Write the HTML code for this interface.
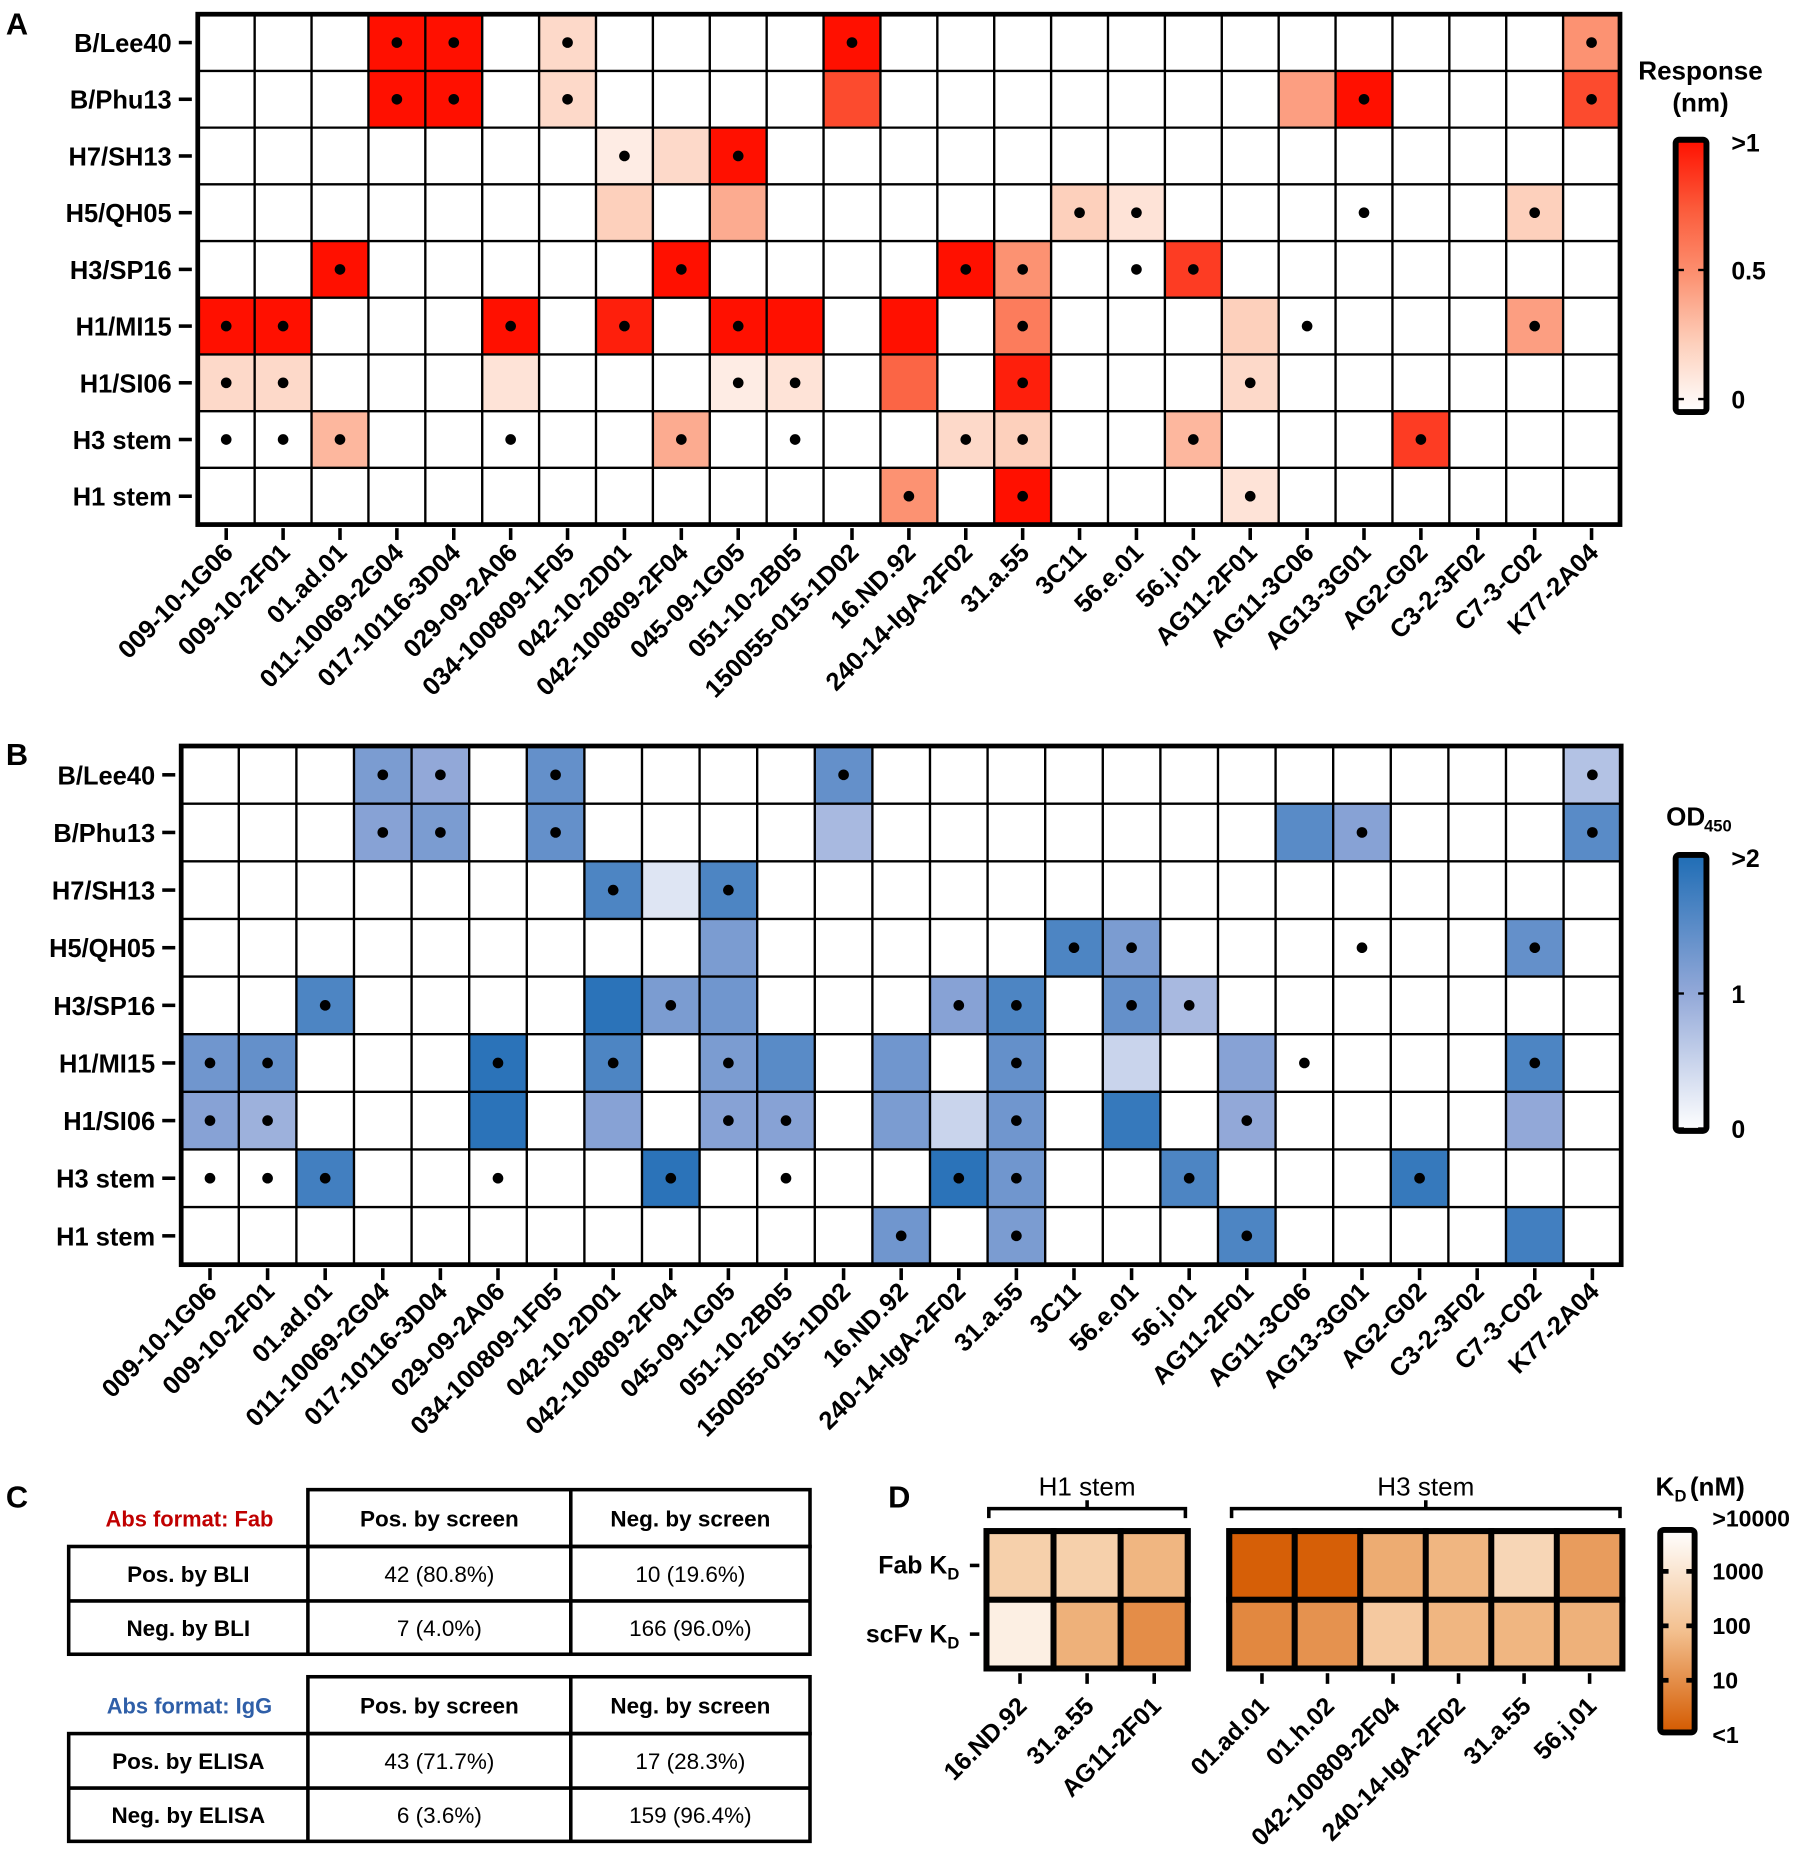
<!DOCTYPE html>
<html><head><meta charset="utf-8">
<style>
html,body{margin:0;padding:0;background:#fff;}
svg{display:block;font-family:"Liberation Sans",Arial,sans-serif;}
</style></head>
<body>
<svg id="fig" width="1800" height="1861" viewBox="0 0 1520 1571.6" preserveAspectRatio="none" xmlns="http://www.w3.org/2000/svg">
<defs>
<linearGradient id="gRed" x1="0" y1="1" x2="0" y2="0">
<stop offset="0" stop-color="#ffffff"/><stop offset="0.25" stop-color="#fdd0bc"/><stop offset="0.5" stop-color="#fc9272"/><stop offset="0.75" stop-color="#fb5a3a"/><stop offset="1" stop-color="#ff1000"/>
</linearGradient>
<linearGradient id="gBlue" x1="0" y1="1" x2="0" y2="0">
<stop offset="0" stop-color="#ffffff"/><stop offset="0.5" stop-color="#92a8d8"/><stop offset="1" stop-color="#1f6db5"/>
</linearGradient>
<linearGradient id="gOr" x1="0" y1="1" x2="0" y2="0">
<stop offset="0" stop-color="#d45a00"/><stop offset="0.5" stop-color="#f3c08f"/><stop offset="1" stop-color="#ffffff"/>
</linearGradient>
</defs>
</svg>
<script>
const cols = ["009-10-1G06","009-10-2F01","01.ad.01","011-10069-2G04","017-10116-3D04","029-09-2A06","034-100809-1F05","042-10-2D01","042-100809-2F04","045-09-1G05","051-10-2B05","150055-015-1D02","16.ND.92","240-14-IgA-2F02","31.a.55","3C11","56.e.01","56.j.01","AG11-2F01","AG11-3C06","AG13-3G01","AG2-G02","C3-2-3F02","C7-3-C02","K77-2A04"];
const rows = ["B/Lee40","B/Phu13","H7/SH13","H5/QH05","H3/SP16","H1/MI15","H1/SI06","H3 stem","H1 stem"];
// Panel A: [row, col, value(nm, 0..1), dot]
const bliCells = [
[0,3,1,1],[0,4,1,1],[0,6,0.2,1],[0,11,1,1],[0,24,0.5,1],
[1,3,1,1],[1,4,1,1],[1,6,0.2,1],[1,11,0.8,0],[1,19,0.45,0],[1,20,1,1],[1,24,0.8,1],
[2,7,0.1,1],[2,8,0.2,0],[2,9,1,1],
[3,7,0.25,0],[3,9,0.4,0],[3,15,0.25,1],[3,16,0.15,1],[3,20,0,1],[3,23,0.25,1],
[4,2,1,1],[4,8,1,1],[4,13,1,1],[4,14,0.5,1],[4,16,0,1],[4,17,0.85,1],
[5,0,1,1],[5,1,1,1],[5,5,1,1],[5,7,0.95,1],[5,9,1,1],[5,10,1,0],[5,12,1,0],[5,14,0.6,1],[5,18,0.25,0],[5,19,0,1],[5,23,0.45,1],
[6,0,0.2,1],[6,1,0.2,1],[6,5,0.15,0],[6,9,0.1,1],[6,10,0.15,1],[6,12,0.7,0],[6,14,0.95,1],[6,18,0.2,1],
[7,0,0,1],[7,1,0,1],[7,2,0.35,1],[7,5,0,1],[7,8,0.4,1],[7,10,0,1],[7,13,0.2,1],[7,14,0.25,1],[7,17,0.35,1],[7,21,0.85,1],
[8,12,0.5,1],[8,14,1,1],[8,18,0.15,1]];
// Panel B: [row, col, OD450 (0..2), dot]
const elisaCells = [
[0,3,1.2,1],[0,4,1.0,1],[0,6,1.4,1],[0,11,1.4,1],[0,24,0.7,1],
[1,3,1.1,1],[1,4,1.2,1],[1,6,1.4,1],[1,11,0.8,0],[1,19,1.5,0],[1,20,1.1,1],[1,24,1.5,1],
[2,7,1.6,1],[2,8,0.3,0],[2,9,1.6,1],
[3,9,1.2,0],[3,15,1.6,1],[3,16,1.2,1],[3,20,0,1],[3,23,1.4,1],
[4,2,1.6,1],[4,7,1.9,0],[4,8,1.2,1],[4,9,1.3,0],[4,13,1.1,1],[4,14,1.6,1],[4,16,1.4,1],[4,17,0.8,1],
[5,0,1.3,1],[5,1,1.4,1],[5,5,1.9,1],[5,7,1.6,1],[5,9,1.2,1],[5,10,1.5,0],[5,12,1.3,0],[5,14,1.4,1],[5,16,0.5,0],[5,18,1.1,0],[5,19,0,1],[5,23,1.6,1],
[6,0,1.1,1],[6,1,0.9,1],[6,5,1.9,0],[6,7,1.1,0],[6,9,1.1,1],[6,10,1.1,1],[6,12,1.2,0],[6,13,0.5,0],[6,14,1.3,1],[6,16,1.8,0],[6,18,1.0,1],[6,23,1.0,0],
[7,0,0,1],[7,1,0,1],[7,2,1.7,1],[7,5,0,1],[7,8,1.9,1],[7,10,0,1],[7,13,1.9,1],[7,14,1.3,1],[7,17,1.6,1],[7,21,1.8,1],
[8,12,1.3,1],[8,14,1.2,1],[8,18,1.6,1],[8,23,1.7,0]];
const h1Cols = ["16.ND.92","31.a.55","AG11-2F01"];
const h3Cols = ["01.ad.01","01.h.02","042-100809-2F04","240-14-IgA-2F02","31.a.55","56.j.01"];
const kdRows = ["Fab K","scFv K"];
// log10(KD nM), 0 = <1, 4 = >10000
const h1Fab = [2.5,2.5,1.8];
const h1Scfv = [3.5,1.7,1.0];
const h3Fab = [0.1,0.1,1.6,1.8,2.7,1.3];
const h3Scfv = [0.9,1.1,2.3,1.8,1.8,1.7];
const redTicks = [">1","0.5","0"];
const blueTicks = [">2","1","0"];
const kdTicks = [">10000","1000","100","10","<1"];

const NS="http://www.w3.org/2000/svg";
const svg=document.getElementById('fig');
function el(tag,attrs,parent){const e=document.createElementNS(NS,tag);for(const k in attrs)e.setAttribute(k,attrs[k]);(parent||svg).appendChild(e);return e;}
function txt(s,attrs,parent){const e=el('text',attrs,parent);e.textContent=s;return e;}
function lerp(a,b,t){return a+(b-a)*t;}
function hex(c){return [parseInt(c.slice(1,3),16),parseInt(c.slice(3,5),16),parseInt(c.slice(5,7),16)];}
function scale(stops,t){t=Math.max(0,Math.min(1,t));const n=stops.length-1;const i=Math.min(n-1,Math.floor(t*n));const f=t*n-i;const a=hex(stops[i]),b=hex(stops[i+1]);return 'rgb('+a.map((v,k)=>Math.round(lerp(v,b[k],f))).join(',')+')';}
const redStops=["#ffffff","#fdd0bc","#fc9272","#fb5a3a","#ff1000"];
const blueStops=["#ffffff","#92a8d8","#1f6db5"];
const orStops=["#d45a00","#f3c08f","#ffffff"];

function heatmap(name,x0,y0,x1,y1,cells,vmax,stops,labelY){
  const g=el('g',{});
  
  
  const cw=(x1-x0)/cols.length, rh=(y1-y0)/rows.length;
  const xS=c=>x0+c*cw, yS=r=>y0+r*rh;
  el('rect',{x:x0,y:y0,width:x1-x0,height:y1-y0,fill:'#fff'},g);
  cells.forEach(d=>{
    const r=el('rect',{x:xS(d[1]),y:yS(d[0]),width:cw,height:rh,fill:scale(stops,d[2]/vmax)},g);
    
    
  });
  for(let c=1;c<cols.length;c++) el('line',{x1:xS(c),x2:xS(c),y1:y0,y2:y1,stroke:'#000','stroke-width':2},g);
  for(let r=1;r<rows.length;r++) el('line',{x1:x0,x2:x1,y1:yS(r),y2:yS(r),stroke:'#000','stroke-width':2},g);
  cells.forEach(d=>{ if(d[3]) el('circle',{cx:xS(d[1])+cw/2,cy:yS(d[0])+rh/2,r:4.5,fill:'#000'},g); });
  el('rect',{x:x0,y:y0,width:x1-x0,height:y1-y0,fill:'none',stroke:'#000','stroke-width':4},g);
  rows.forEach((r,i)=>{
    const cy=yS(i)+rh/2;
    el('line',{x1:x0-16,x2:x0-5,y1:cy,y2:cy,stroke:'#000','stroke-width':3},g);
    const t=txt(r,{x:x0-22,y:cy+8,'text-anchor':'end','font-size':21.5,'font-weight':'bold'},g);
    
    
  });
  cols.forEach((c,i)=>{
    const cx=xS(i)+cw/2;
    el('line',{x1:cx,x2:cx,y1:y1+3,y2:y1+13,stroke:'#000','stroke-width':3},g);
    const t=txt(c,{x:cx+7,y:labelY,'text-anchor':'end','font-size':21.5,'font-weight':'bold',transform:'rotate(-45 '+(cx+7)+' '+labelY+')'},g);
    
    
  });
}
function colorbar(name,x,y,w,h,grad,ticks,tickYs){
  const g=el('g',{});
  
  
  el('rect',{x:x,y:y,width:w,height:h,fill:'url(#'+grad+')',stroke:'#000','stroke-width':5,rx:3},g);
  ticks.forEach((t,i)=>{
    const ty=tickYs[i];
    if(i>0){
      el('line',{x1:x+2,x2:x+7,y1:ty,y2:ty,stroke:'#000','stroke-width':2},g);
      el('line',{x1:x+w-7,x2:x+w-2,y1:ty,y2:ty,stroke:'#000','stroke-width':2},g);
    }
    txt(t,{x:x+w+21,y:ty+8,'font-size':21,'font-weight':'bold'},g);
  });
}
// Panel labels
[["A",5,29],["B",5,646],["C",5,1273],["D",750,1273]].forEach(p=>{
  const t=txt(p[0],{x:p[1],y:p[2],'font-size':26,'font-weight':'bold'});
  
  
});
heatmap('bli-heatmap',167,12,1368,443,bliCells,1,redStops,468);
heatmap('elisa-heatmap',153,630,1369,1068,elisaCells,2,blueStops,1092);
// Colorbar A
let t=txt('Response',{x:1436,y:67,'text-anchor':'middle','font-size':22,'font-weight':'bold'});


txt('(nm)',{x:1436,y:94,'text-anchor':'middle','font-size':22,'font-weight':'bold'});
colorbar('colorbar-a',1415,118,26,230,'gRed',redTicks,[120,228,337]);
// Colorbar B
t=txt('OD',{x:1407,y:697,'font-size':22,'font-weight':'bold'});


txt('450',{x:1439,y:702,'font-size':14,'font-weight':'bold'});
colorbar('colorbar-b',1415,722,26,233,'gBlue',blueTicks,[724,839,953]);

// Panel C tables
function table(name,y0,title,color,rowsT){
  const g=el('g',{});
  
  
  const ys=[y0,y0+48,y0+94,y0+139];
  txt(title,{x:160,y:y0+31,'text-anchor':'middle','font-size':18.5,'font-weight':'bold',fill:color},g);
  el('rect',{x:260,y:ys[0],width:424,height:48,fill:'none',stroke:'#000','stroke-width':3},g);
  el('rect',{x:58,y:ys[1],width:626,height:91,fill:'none',stroke:'#000','stroke-width':3},g);
  el('line',{x1:482,x2:482,y1:ys[0],y2:ys[3],stroke:'#000','stroke-width':3},g);
  el('line',{x1:260,x2:260,y1:ys[1],y2:ys[3],stroke:'#000','stroke-width':3},g);
  el('line',{x1:58,x2:684,y1:ys[2],y2:ys[2],stroke:'#000','stroke-width':3},g);
  txt('Pos. by screen',{x:371,y:y0+31,'text-anchor':'middle','font-size':19,'font-weight':'bold'},g);
  txt('Neg. by screen',{x:583,y:y0+31,'text-anchor':'middle','font-size':19,'font-weight':'bold'},g);
  rowsT.forEach((r,i)=>{
    const cy=(ys[i+1]+ys[i+2])/2+7;
    txt(r[0],{x:159,y:cy,'text-anchor':'middle','font-size':19,'font-weight':'bold'},g);
    txt(r[1],{x:371,y:cy,'text-anchor':'middle','font-size':19},g);
    txt(r[2],{x:583,y:cy,'text-anchor':'middle','font-size':19},g);
  });
}
table('fab-table',1258,'Abs format: Fab','#c00000',[["Pos. by BLI","42 (80.8%)","10 (19.6%)"],["Neg. by BLI","7 (4.0%)","166 (96.0%)"]]);
table('igg-table',1416,'Abs format: IgG','#2f5fa8',[["Pos. by ELISA","43 (71.7%)","17 (28.3%)"],["Neg. by ELISA","6 (3.6%)","159 (96.4%)"]]);

// Panel D
function kdMap(name,x0,x1,labels,fab,scfv,title){
  const g=el('g',{});
  
  
  const y0=1293,y1=1409,n=labels.length,cw=(x1-x0)/n,rh=(y1-y0)/2;
  [fab,scfv].forEach((arr,r)=>arr.forEach((v,c)=>{
    const rc=el('rect',{x:x0+c*cw,y:y0+r*rh,width:cw,height:rh,fill:scale(orStops,v/4),stroke:'#000','stroke-width':5},g);
    
    
  }));
  el('rect',{x:x0,y:y0,width:x1-x0,height:y1-y0,fill:'none',stroke:'#000','stroke-width':5},g);
  el('path',{d:`M${x0+2} 1282 V1274 H${x1-2} V1282 M${(x0+x1)/2} 1274 V1267`,fill:'none',stroke:'#000','stroke-width':3},g);
  txt(title,{x:(x0+x1)/2,y:1263,'text-anchor':'middle','font-size':22},g);
  labels.forEach((l,i)=>{
    const cx=x0+(i+0.5)*cw;
    el('line',{x1:cx,x2:cx,y1:1413,y2:1422,stroke:'#000','stroke-width':3},g);
    const tt=txt(l,{x:cx+7,y:1442,'text-anchor':'end','font-size':21,'font-weight':'bold',transform:`rotate(-45 ${cx+7} 1442)`},g);
    
    
  });
}
kdMap('h1-stem-kd',833,1003,h1Cols,h1Fab,h1Scfv,'H1 stem');
kdMap('h3-stem-kd',1038,1370,h3Cols,h3Fab,h3Scfv,'H3 stem');
[1322,1380].forEach((y,i)=>{
  const tt=txt(kdRows[i],{x:800,y:y+7,'text-anchor':'end','font-size':21,'font-weight':'bold'});
  
  
  txt('D',{x:800,y:y+12,'font-size':14,'font-weight':'bold'});
  el('line',{x1:819,x2:827,y1:y,y2:y,stroke:'#000','stroke-width':3});
});
t=txt('K',{x:1398,y:1263,'font-size':22,'font-weight':'bold'});


txt('D',{x:1414,y:1268,'font-size':14,'font-weight':'bold'});
txt('(nM)',{x:1427,y:1263,'font-size':22,'font-weight':'bold'});
{
  const g=el('g',{});
  
  
  el('rect',{x:1402,y:1292,width:29,height:171,fill:'url(#gOr)',stroke:'#000','stroke-width':5,rx:3},g);
  const tys=[1282,1327,1373,1419,1465];
  kdTicks.forEach((k,i)=>{
    if(i>0&&i<4){el('line',{x1:1403,x2:1409,y1:tys[i],y2:tys[i],stroke:'#000','stroke-width':4},g);el('line',{x1:1424,x2:1430,y1:tys[i],y2:tys[i],stroke:'#000','stroke-width':4},g);}
    txt(k,{x:1446,y:tys[i]+7,'font-size':19.5,'font-weight':'bold'},g);
  });
}
</script>
</body></html>
